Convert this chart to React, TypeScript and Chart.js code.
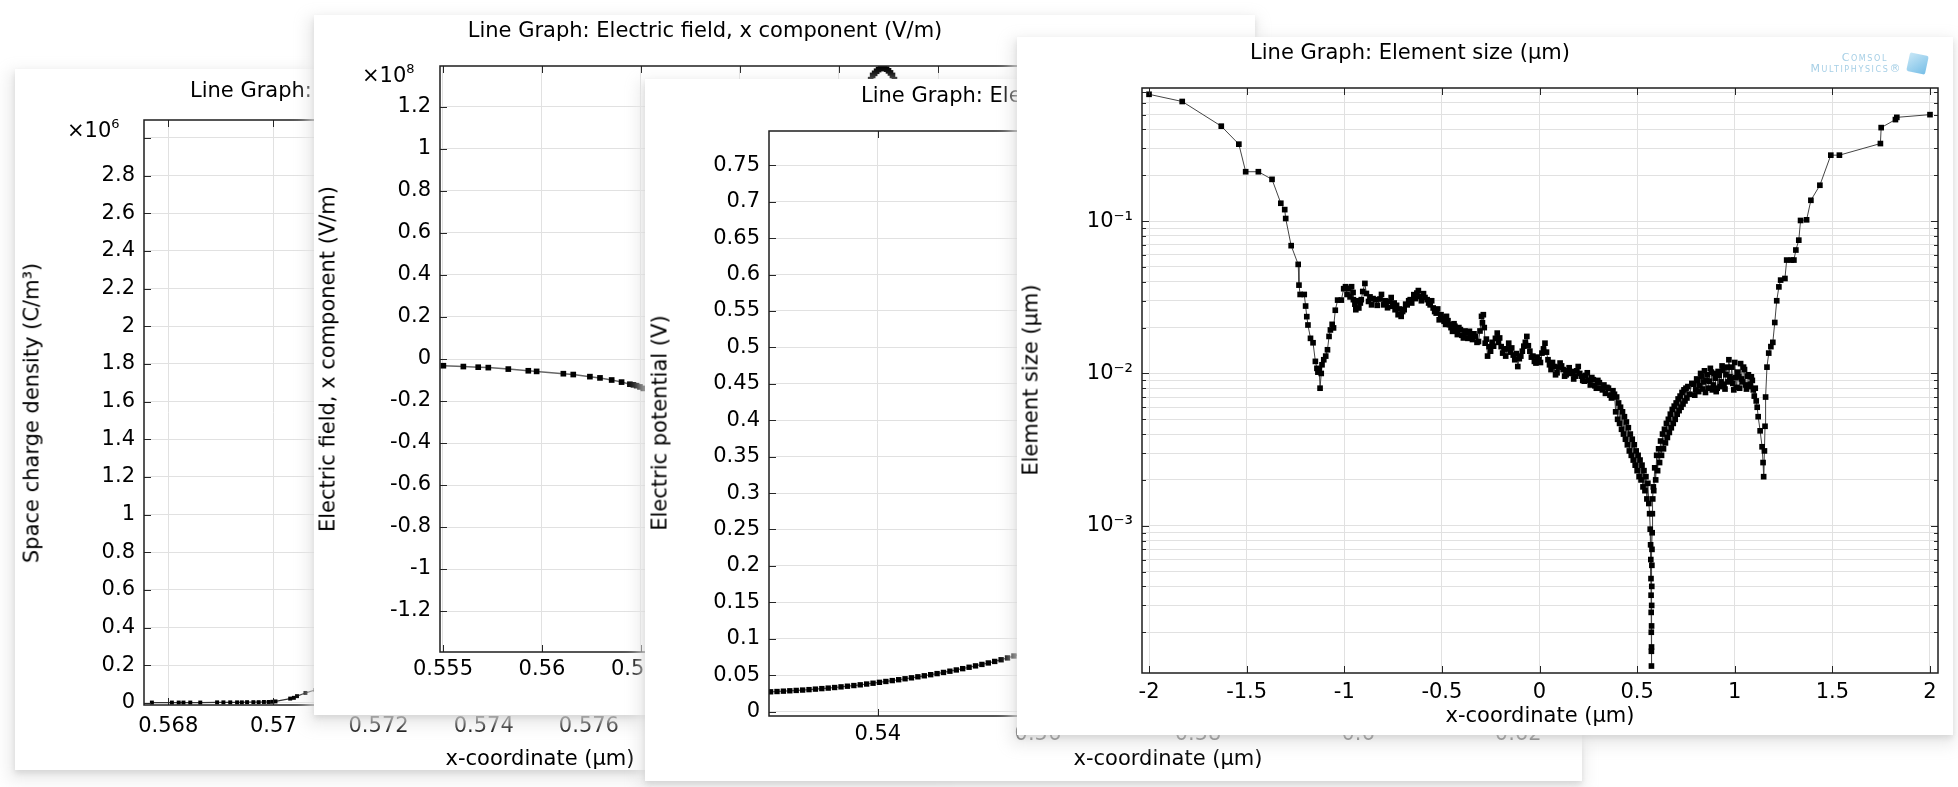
import React, { useEffect, useRef } from 'react';
import { Chart, registerables } from 'chart.js';

Chart.register(...registerables);

const FONT = "'DejaVu Sans', 'Liberation Sans', sans-serif";
const GRID = '#e1e1e1';

// ---------- Panel 1: Space charge density (x10^6 C/m^3) ----------
const rhoX = [0.56769, 0.56807, 0.5682, 0.56829, 0.56842, 0.56861, 0.56893, 0.56905, 0.56918, 0.56931, 0.5694, 0.5695, 0.56962, 0.56972, 0.56982, 0.56991, 0.56998, 0.57004, 0.57032, 0.57039, 0.57045, 0.57061, 0.5708, 0.5712, 0.5718, 0.5725, 0.5732, 0.574, 0.5748, 0.5755, 0.5762, 0.577, 0.578, 0.579, 0.581];
const rhoY = [0.002, 0.002, 0.002, 0.002, 0.002, 0.002, 0.003, 0.003, 0.003, 0.003, 0.003, 0.004, 0.004, 0.004, 0.005, 0.005, 0.006, 0.008, 0.023, 0.027, 0.036, 0.053, 0.069, 0.12, 0.22, 0.45, 0.9, 1.7, 2.6, 2.9, 2.5, 1.4, 0.3, 0.02, 0.002];
const rhoXTicks = [0.568, 0.57, 0.572, 0.574, 0.576, 0.578, 0.58, 0.582];
const rhoYTicks = [0, 0.2, 0.4, 0.6, 0.8, 1, 1.2, 1.4, 1.6, 1.8, 2, 2.2, 2.4, 2.6, 2.8, 3];
const rhoYLabels = ['0', '0.2', '0.4', '0.6', '0.8', '1', '1.2', '1.4', '1.6', '1.8', '2', '2.2', '2.4', '2.6', '2.8', ''];

// ---------- Panel 2: Electric field, x component (x10^8 V/m) ----------
const efX = [0.55502, 0.55603, 0.55678, 0.55729, 0.5583, 0.55931, 0.55973, 0.56108, 0.56158, 0.56242, 0.56293, 0.56352, 0.56402, 0.56444, 0.56462, 0.56478, 0.56495, 0.56512, 0.5655, 0.567, 0.569, 0.571, 0.573, 0.575, 0.5766, 0.5767, 0.5768, 0.5769, 0.577, 0.5771, 0.5772, 0.5773, 0.5774, 0.5775, 0.5776, 0.5777, 0.5778, 0.5795, 0.581, 0.584, 0.588, 0.592, 0.595];
const efY = [-0.032, -0.036, -0.039, -0.041, -0.048, -0.056, -0.059, -0.07, -0.074, -0.084, -0.09, -0.1, -0.11, -0.12, -0.123, -0.127, -0.133, -0.14, -0.16, -0.19, -0.2, -0.1, 0.3, 0.9, 1.33, 1.35, 1.36, 1.37, 1.378, 1.383, 1.386, 1.384, 1.38, 1.372, 1.362, 1.35, 1.33, 1.0, 0.5, 0.1, -0.02, -0.03, -0.03];
const efXTicks = [0.555, 0.56, 0.565, 0.57, 0.575, 0.58, 0.585, 0.59, 0.595];
const efYTicks = [-1.2, -1, -0.8, -0.6, -0.4, -0.2, 0, 0.2, 0.4, 0.6, 0.8, 1, 1.2];

// ---------- Panel 3: Electric potential (V) ----------
const vX = [0.5266, 0.5274, 0.5282, 0.529, 0.5298, 0.5306, 0.5314, 0.5322, 0.533, 0.5338, 0.5346, 0.5354, 0.5362, 0.537, 0.5378, 0.5386, 0.5394, 0.5402, 0.541, 0.5418, 0.5426, 0.5434, 0.5442, 0.545, 0.5458, 0.5466, 0.5474, 0.5482, 0.549, 0.5498, 0.5506, 0.5514, 0.5522, 0.553, 0.5538, 0.5546, 0.5554, 0.5562, 0.557, 0.5578, 0.5586, 0.565, 0.572, 0.58, 0.59, 0.6, 0.61, 0.625];
const vY = [0.0272, 0.0276, 0.0281, 0.0286, 0.0291, 0.0296, 0.0302, 0.0309, 0.0316, 0.0323, 0.0331, 0.034, 0.0349, 0.0358, 0.0368, 0.0379, 0.039, 0.0402, 0.0414, 0.0426, 0.0438, 0.0451, 0.0464, 0.0478, 0.0492, 0.0507, 0.0522, 0.0538, 0.0555, 0.0572, 0.059, 0.0609, 0.0628, 0.0648, 0.0668, 0.0689, 0.0712, 0.0737, 0.0764, 0.0792, 0.0822, 0.14, 0.27, 0.5, 0.7, 0.75, 0.76, 0.765];
const vXTicks = [0.54, 0.56, 0.58, 0.6, 0.62];
const vYTicks = [0, 0.05, 0.1, 0.15, 0.2, 0.25, 0.3, 0.35, 0.4, 0.45, 0.5, 0.55, 0.6, 0.65, 0.7, 0.75];

// ---------- Panel 4: Element size (µm) ----------
const elX = [
  -2.0, -1.83, -1.63, -1.54, -1.505, -1.44, -1.37, -1.325, -1.305, -1.3, -1.272, -1.236, -1.232, -1.226, -1.205, -1.198, -1.192, -1.186, -1.173, -1.16, -1.148, -1.14, -1.135, -1.128, -1.124, -1.118, -1.114, -1.105, -1.095, -1.086, -1.078, -1.071, -1.062, -1.055, -1.046, -1.034, -1.015, -1.003,
  -0.9936, -0.9859, -0.978, -0.9703, -0.9626, -0.9549, -0.9533, -0.9456, -0.9409, -0.9332, -0.9254, -0.9177, -0.913, -0.9053, -0.8944, -0.8867, -0.8758, -0.8681, -0.8603, -0.8526, -0.8388, -0.8311, -0.8171, -0.8094, -0.7985, -0.7908, -0.7861, -0.7784, -0.7675, -0.7598, -0.752, -0.7443, -0.7397, -0.732, -0.7242, -0.7165, -0.7087, -0.701,
  -0.6932, -0.6855, -0.6778, -0.6701, -0.6623, -0.6546, -0.6437, -0.636, -0.6282, -0.6205, -0.6127, -0.605, -0.5942, -0.5865, -0.5756, -0.5679, -0.5601, -0.5524, -0.5447, -0.537, -0.5292, -0.5215, -0.5137, -0.506, -0.5044, -0.4967, -0.4889, -0.4812, -0.4765, -0.4688, -0.461, -0.4533, -0.4456, -0.4379, -0.4332, -0.4255, -0.4208, -0.4131, -0.4053, -0.3976,
  -0.3899, -0.3822, -0.3744, -0.3667, -0.3589, -0.3512, -0.3434, -0.3357, -0.3279, -0.3202, -0.3125, -0.3048, -0.297, -0.2924, -0.2877, -0.283, -0.2784, -0.2722, -0.2661, -0.2584, -0.2506, -0.2429, -0.2351, -0.2258, -0.2165, -0.2103, -0.2041, -0.1964, -0.1887, -0.181, -0.1732, -0.1655, -0.1577, -0.15, -0.1423, -0.1346, -0.1268, -0.1191, -0.1113, -0.1036,
  -0.0958, -0.0881, -0.0803, -0.0726, -0.0649, -0.0572, -0.0494, -0.0417, -0.0339, -0.0262, -0.0184, -0.0107, -0.003, 0.0048, 0.0125, 0.0202, 0.028, 0.0358, 0.0435, 0.0512, 0.059, 0.0667, 0.0744, 0.0822, 0.0899, 0.0976, 0.1054, 0.1131, 0.1209, 0.1286, 0.1364, 0.1441, 0.1518, 0.1596, 0.1673, 0.175, 0.1828, 0.1906, 0.1983, 0.206,
  0.2137, 0.2214, 0.2292, 0.237, 0.2447, 0.2524, 0.2602, 0.268, 0.2757, 0.2834, 0.2911, 0.2988, 0.3066, 0.3144, 0.3221, 0.3298, 0.3376, 0.3454, 0.3531, 0.3608, 0.3685, 0.3762, 0.384,
  0.39, 0.395, 0.4, 0.405, 0.41, 0.415, 0.42, 0.425, 0.43, 0.435, 0.44, 0.445, 0.45, 0.455, 0.46, 0.465, 0.47, 0.475, 0.48, 0.485, 0.49, 0.495, 0.5, 0.505, 0.51, 0.515, 0.52, 0.525, 0.53, 0.535, 0.54, 0.545, 0.55, 0.555, 0.56, 0.564, 0.567, 0.569, 0.57, 0.571, 0.5715, 0.572, 0.5725, 0.573, 0.5733, 0.5737, 0.574, 0.5745, 0.575, 0.5755, 0.576, 0.577, 0.578, 0.58, 0.583,
  0.585, 0.59, 0.595, 0.6, 0.605, 0.61, 0.615, 0.62, 0.625, 0.63, 0.635, 0.64, 0.645, 0.65, 0.655, 0.66, 0.665, 0.67, 0.675, 0.68, 0.685, 0.69, 0.695, 0.7, 0.705, 0.71, 0.715, 0.72, 0.725, 0.73, 0.735, 0.74, 0.745, 0.75, 0.755, 0.76, 0.77, 0.78,
  0.79, 0.795, 0.8, 0.805, 0.81, 0.815, 0.82, 0.825, 0.83, 0.835, 0.84, 0.845, 0.85, 0.855, 0.86, 0.865, 0.87, 0.875, 0.88, 0.885, 0.89, 0.895, 0.9, 0.905, 0.91, 0.915, 0.92, 0.925, 0.93, 0.935, 0.94, 0.945, 0.95, 0.955, 0.96, 0.965, 0.97, 0.975, 0.98, 0.985,
  0.99, 0.995, 1.0, 1.005, 1.01, 1.015, 1.02, 1.025, 1.03, 1.035, 1.04, 1.045, 1.05, 1.055, 1.06, 1.065, 1.07, 1.075, 1.08, 1.085, 1.09, 1.095, 1.1, 1.105, 1.11, 1.115, 1.12, 1.13, 1.14, 1.145, 1.148, 1.152, 1.155,
  1.158, 1.165, 1.174, 1.185, 1.195, 1.205, 1.215, 1.226, 1.235, 1.257, 1.266, 1.29, 1.303, 1.313, 1.328, 1.337, 1.368, 1.39, 1.436, 1.492, 1.536, 1.746, 1.75, 1.823, 1.83, 2.0,
];
const elY = [
  0.68, 0.61, 0.42, 0.32, 0.211, 0.211, 0.188, 0.131, 0.119, 0.104, 0.069, 0.052, 0.038, 0.033, 0.033, 0.0277, 0.0236, 0.0208, 0.017, 0.0159, 0.012, 0.0108, 0.0102, 0.0106, 0.008, 0.01, 0.0114, 0.0123, 0.013, 0.0143, 0.0175, 0.0193, 0.021, 0.0199, 0.026, 0.0303, 0.0303, 0.036,
  0.0371, 0.033, 0.0362, 0.0318, 0.0371, 0.034, 0.0305, 0.0285, 0.0262, 0.03, 0.0269, 0.029, 0.0305, 0.0345, 0.039, 0.0335, 0.0297, 0.0318, 0.0282, 0.031, 0.0305, 0.028, 0.0308, 0.033, 0.0282, 0.03, 0.029, 0.027, 0.0297, 0.0315, 0.0276, 0.029, 0.0262, 0.028, 0.0243, 0.0265, 0.0237, 0.0255,
  0.0262, 0.0285, 0.0282, 0.03, 0.0305, 0.029, 0.0329, 0.031, 0.0337, 0.035, 0.032, 0.03, 0.0334, 0.0315, 0.0305, 0.029, 0.0282, 0.03, 0.0269, 0.0255, 0.0249, 0.0265, 0.0225, 0.0235, 0.0243, 0.023, 0.022, 0.021, 0.0237, 0.0222, 0.0209, 0.02, 0.0189, 0.0212, 0.0204, 0.0192, 0.018, 0.02, 0.0194, 0.0178,
  0.0171, 0.019, 0.0184, 0.017, 0.0189, 0.0176, 0.0167, 0.0182, 0.0175, 0.016, 0.0162, 0.019, 0.0237, 0.0215, 0.0243, 0.02, 0.0158, 0.0168, 0.013, 0.015, 0.014, 0.016, 0.0151, 0.017, 0.0184, 0.016, 0.0171, 0.015, 0.0136, 0.0145, 0.013, 0.0145, 0.0158, 0.0138, 0.0147, 0.0132, 0.0123, 0.0135, 0.0111, 0.0125,
  0.013, 0.014, 0.0151, 0.016, 0.0175, 0.0152, 0.014, 0.0128, 0.013, 0.012, 0.0117, 0.0128, 0.0123, 0.0118, 0.0136, 0.0145, 0.0158, 0.0138, 0.0123, 0.0114, 0.0106, 0.0118, 0.0111, 0.0098, 0.0101, 0.011, 0.0117, 0.0112, 0.0106, 0.0096, 0.0098, 0.0104, 0.0109, 0.01, 0.0103, 0.0092, 0.0096, 0.0104, 0.0111, 0.01,
  0.0096, 0.009, 0.0089, 0.0097, 0.0101, 0.009, 0.0084, 0.0094, 0.0091, 0.0083, 0.008, 0.009, 0.0087, 0.008, 0.0078, 0.0084, 0.0074, 0.0081, 0.008, 0.0072, 0.0069, 0.0077, 0.0073,
  0.0056, 0.007, 0.005, 0.0064, 0.0047, 0.006, 0.0043, 0.0056, 0.004, 0.0052, 0.0037, 0.0048, 0.0034, 0.0044, 0.0031, 0.004, 0.0029, 0.0037, 0.0027, 0.0034, 0.0025, 0.0031, 0.0023, 0.0029, 0.0021, 0.0027, 0.002, 0.0025, 0.0018, 0.0023, 0.0017, 0.0021, 0.0015, 0.0019, 0.0014, 0.0012, 0.00095, 0.00075, 0.0006, 0.00045, 0.00035, 0.00027, 0.0002, 0.00015, 0.00012, 0.00016, 0.00022, 0.0003, 0.0004, 0.00055, 0.0007, 0.0009, 0.0012, 0.0015, 0.0018,
  0.0017, 0.0024, 0.002, 0.0029, 0.0023, 0.0032, 0.0026, 0.0036, 0.0029, 0.004, 0.0032, 0.0043, 0.0035, 0.0047, 0.0038, 0.005, 0.0041, 0.0054, 0.0044, 0.0058, 0.0047, 0.0061, 0.005, 0.0064, 0.0054, 0.0068, 0.0057, 0.0071, 0.006, 0.0075, 0.0063, 0.0078, 0.0066, 0.008, 0.0069, 0.0082, 0.0073, 0.0086,
  0.0085, 0.0072, 0.0078, 0.0092, 0.009, 0.0076, 0.0083, 0.01, 0.0096, 0.0079, 0.0088, 0.0104, 0.0075, 0.009, 0.0098, 0.008, 0.0089, 0.0108, 0.0102, 0.0078, 0.0084, 0.01, 0.0093, 0.0076, 0.008, 0.0103, 0.0097, 0.0082, 0.0088, 0.0112, 0.0105, 0.0085, 0.0079, 0.0098, 0.011, 0.0088, 0.0123, 0.0095, 0.0092, 0.011,
  0.0086, 0.0078, 0.0118, 0.0094, 0.0081, 0.0102, 0.0095, 0.008, 0.0116, 0.0092, 0.0088, 0.011, 0.0106, 0.0084, 0.0079, 0.0096, 0.0098, 0.0082, 0.0085, 0.0095, 0.009, 0.0078, 0.0071, 0.008, 0.0066, 0.006, 0.0052, 0.0042, 0.0033, 0.0026, 0.0021, 0.0031, 0.0045,
  0.007, 0.011, 0.0136, 0.015, 0.016, 0.0216, 0.03, 0.037, 0.041, 0.042, 0.0555, 0.0555, 0.0555, 0.0646, 0.075, 0.101, 0.102, 0.137, 0.172, 0.271, 0.271, 0.323, 0.411, 0.464, 0.48, 0.5,
];
const elXTicks = [-2, -1.5, -1, -0.5, 0, 0.5, 1, 1.5, 2];
const elYDecades = [1e-4, 1e-3, 1e-2, 1e-1];

// ---------------------------------------------------------------
type Rect = { l: number; t: number; r: number; b: number };
const W_Y = 100;
const H_X = 40;

const SUP: Record<string, string> = { '-': '⁻', '0': '⁰', '1': '¹', '2': '²', '3': '³', '4': '⁴', '5': '⁵' };
const isDecade = (v: number) => {
  const e = Math.log10(v);
  return Math.abs(e - Math.round(e)) < 1e-6;
};

const framePlugin = {
  id: 'comsolFrame',
  afterDraw(chart: any) {
    const { ctx, chartArea: a, scales } = chart;
    const xs = scales.x;
    const ys = scales.y;
    ctx.save();
    ctx.strokeStyle = '#262626';
    ctx.lineWidth = 1;
    ctx.beginPath();
    for (const t of xs.ticks) {
      const p = Math.round(xs.getPixelForValue(t.value)) + 0.5;
      if (p < a.left - 1 || p > a.right + 1) continue;
      ctx.moveTo(p, a.bottom);
      ctx.lineTo(p, a.bottom - 7);
      ctx.moveTo(p, a.top);
      ctx.lineTo(p, a.top + 7);
    }
    const isLog = ys.type === 'logarithmic';
    for (const t of ys.ticks) {
      const p = Math.round(ys.getPixelForValue(t.value)) + 0.5;
      if (p < a.top - 1 || p > a.bottom + 1) continue;
      const len = isLog && !isDecade(t.value) ? 4 : 7;
      ctx.moveTo(a.left, p);
      ctx.lineTo(a.left + len, p);
      ctx.moveTo(a.right, p);
      ctx.lineTo(a.right - len, p);
    }
    ctx.stroke();
    ctx.lineWidth = 1.5;
    ctx.strokeStyle = '#1e1e1e';
    ctx.strokeRect(a.left, a.top, a.right - a.left, a.bottom - a.top);
    ctx.restore();
  },
};

interface PanelCfg {
  card: Rect;
  plot: Rect;
  z: number;
  xs: number[];
  ys: number[];
  xMin: number;
  xMax: number;
  xTicks: number[];
  yMin: number;
  yMax: number;
  yTicks: number[];
  yLabel: (v: number) => string;
  log?: boolean;
  xPad: number;
  pr: number;
  lineColor: string;
  lineWidth: number;
}

function Panel({ cfg, children }: { cfg: PanelCfg; children?: React.ReactNode }) {
  const ref = useRef<HTMLCanvasElement>(null);
  const { card, plot } = cfg;
  const cw = card.r - card.l;
  const ch = card.b - card.t;
  useEffect(() => {
    const font = { family: FONT, size: 21 };
    const chart = new Chart(ref.current as HTMLCanvasElement, {
      type: 'scatter',
      data: {
        datasets: [
          {
            data: cfg.xs.map((x, i) => ({ x, y: cfg.ys[i] })),
            showLine: true,
            borderColor: cfg.lineColor,
            borderWidth: cfg.lineWidth,
            pointStyle: 'rect',
            pointRadius: cfg.pr,
            pointHoverRadius: cfg.pr,
            pointBackgroundColor: '#000',
            pointBorderWidth: 0,
          } as any,
        ],
      },
      options: {
        animation: false,
        responsive: false,
        maintainAspectRatio: false,
        events: [],
        layout: {
          padding: {
            left: plot.l - card.l - W_Y,
            top: plot.t - card.t,
            right: card.r - plot.r,
            bottom: card.b - plot.b - H_X,
          },
        },
        plugins: { legend: { display: false }, tooltip: { enabled: false }, title: { display: false } },
        scales: {
          x: {
            type: 'linear',
            bounds: 'data',
            min: cfg.xMin,
            max: cfg.xMax,
            afterBuildTicks: (s: any) => {
              s.ticks = cfg.xTicks.map((v) => ({ value: v }));
            },
            afterFit: (s: any) => {
              s.height = H_X;
              s.paddingLeft = 0;
              s.paddingRight = 0;
            },
            ticks: {
              font,
              color: '#000',
              padding: cfg.xPad,
              maxRotation: 0,
              minRotation: 0,
              autoSkip: false,
              callback: (v: any) => String(v),
            },
            grid: { color: GRID, drawTicks: false, lineWidth: 1 },
            border: { display: false },
          },
          y: {
            type: cfg.log ? 'logarithmic' : 'linear',
            bounds: 'data',
            min: cfg.yMin,
            max: cfg.yMax,
            afterBuildTicks: (s: any) => {
              s.ticks = cfg.yTicks.map((v) => ({ value: v }));
            },
            afterFit: (s: any) => {
              s.width = W_Y;
              s.paddingTop = 0;
              s.paddingBottom = 0;
            },
            ticks: {
              font,
              color: '#000',
              padding: 9,
              autoSkip: false,
              callback: (v: any) => cfg.yLabel(Number(v)),
            },
            grid: { color: GRID, drawTicks: false, lineWidth: 1 },
            border: { display: false },
          },
        } as any,
      },
      plugins: [framePlugin],
    });
    return () => chart.destroy();
  }, []);
  return (
    <div
      style={{
        position: 'absolute',
        left: card.l,
        top: card.t,
        width: cw,
        height: ch,
        background: '#fff',
        zIndex: cfg.z,
        overflow: 'hidden',
        boxShadow: '0 3px 6px rgba(0,0,0,0.10), -2px 6px 14px 4px rgba(232,232,232,0.85)',
      }}
    >
      <canvas ref={ref} width={cw} height={ch} style={{ position: 'absolute', left: 0, top: 0, width: cw, height: ch }} />
      <div style={{ position: 'absolute', left: -card.l, top: -card.t, width: 0, height: 0 }}>{children}</div>
    </div>
  );
}

function T({ x, y, rot, left, children, size = 21, color = '#000' }: any) {
  return (
    <div
      style={{
        position: 'absolute',
        left: x,
        top: y,
        transform: `translate(${left ? '0' : '-50%'}, -50%)${rot ? ' rotate(-90deg)' : ''}`,
        font: `${size}px ${FONT}`,
        color,
        whiteSpace: 'nowrap',
        lineHeight: 1,
      }}
    >
      {children}
    </div>
  );
}

function Mult({ x, y, exp }: { x: number; y: number; exp: string }) {
  return (
    <T x={x} y={y} left>
      ×10<span style={{ fontSize: 13, position: 'relative', top: -9 }}>{exp}</span>
    </T>
  );
}

const fmtPlain = (v: number) => String(v);

const p1: PanelCfg = {
  card: { l: 15, t: 69, r: 950, b: 770 },
  plot: { l: 144, t: 120, r: 936, b: 705 },
  z: 1,
  xs: rhoX,
  ys: rhoY,
  xMin: 0.56754,
  xMax: 0.5826,
  xTicks: rhoXTicks,
  yMin: -0.011,
  yMax: 3.095,
  yTicks: rhoYTicks,
  yLabel: (v) => rhoYLabels[rhoYTicks.indexOf(v)] ?? '',
  xPad: 9,
  pr: 2.8,
  lineColor: '#333',
  lineWidth: 1.2,
};

const p2: PanelCfg = {
  card: { l: 314, t: 15, r: 1255, b: 715 },
  plot: { l: 440, t: 66, r: 1237, b: 652 },
  z: 2,
  xs: efX,
  ys: efY,
  xMin: 0.55485,
  xMax: 0.5951,
  xTicks: efXTicks,
  yMin: -1.395,
  yMax: 1.395,
  yTicks: efYTicks,
  yLabel: fmtPlain,
  xPad: 5,
  pr: 4,
  lineColor: '#666',
  lineWidth: 1.5,
};

const p3: PanelCfg = {
  card: { l: 645, t: 79, r: 1582, b: 781 },
  plot: { l: 769, t: 131, r: 1567, b: 716 },
  z: 3,
  xs: vX,
  ys: vY,
  xMin: 0.5264,
  xMax: 0.6261,
  xTicks: vXTicks,
  yMin: -0.006,
  yMax: 0.797,
  yTicks: vYTicks,
  yLabel: fmtPlain,
  xPad: 6,
  pr: 3.8,
  lineColor: '#555',
  lineWidth: 1.2,
};

const elYTicks: number[] = [];
elYDecades.forEach((d) => {
  for (let m = 1; m <= 9; m++) {
    const v = m * d;
    if (v >= 1.08e-4 && v <= 0.748) elYTicks.push(v);
  }
});

const p4: PanelCfg = {
  card: { l: 1017, t: 37, r: 1953, b: 735 },
  plot: { l: 1142, t: 88, r: 1938, b: 673 },
  z: 4,
  xs: elX,
  ys: elY,
  xMin: -2.036,
  xMax: 2.041,
  xTicks: elXTicks,
  yMin: 1.08e-4,
  yMax: 0.748,
  yTicks: elYTicks,
  yLabel: (v) => {
    if (!isDecade(v)) return '';
    const e = String(Math.round(Math.log10(v)));
    return '10' + e.split('').map((c) => SUP[c] || c).join('');
  },
  log: true,
  xPad: 7,
  pr: 4,
  lineColor: '#444',
  lineWidth: 1,
};

export default function App() {
  return (
    <div
      style={{
        position: 'fixed',
        left: 0,
        top: 0,
        width: 1958,
        height: 787,
        overflow: 'hidden',
        background: '#fff',
        fontFamily: FONT,
      }}
    >
      <Panel cfg={p1}>
        <T x={190} y={90} left>Line Graph: Space charge density (C/m³)</T>
        <Mult x={67} y={130} exp="6" />
        <T x={32} y={413} rot>Space charge density (C/m³)</T>
        <T x={540} y={758}>x-coordinate (µm)</T>
      </Panel>
      <Panel cfg={p2}>
        <T x={705} y={30}>Line Graph: Electric field, x component (V/m)</T>
        <Mult x={362} y={75} exp="8" />
        <T x={328} y={359} rot>Electric field, x component (V/m)</T>
        <T x={838} y={698}>x-coordinate (µm)</T>
      </Panel>
      <Panel cfg={p3}>
        <T x={861} y={95} left>Line Graph: Electric potential (V)</T>
        <T x={660} y={423} rot>Electric potential (V)</T>
        <T x={1168} y={758}>x-coordinate (µm)</T>
      </Panel>
      <Panel cfg={p4}>
        <T x={1410} y={52}>Line Graph: Element size (µm)</T>
        <T x={1031} y={380} rot>Element size (µm)</T>
        <T x={1540} y={715}>x-coordinate (µm)</T>
        <div
          style={{
            position: 'absolute',
            left: 1790,
            top: 52,
            width: 112,
            textAlign: 'right',
            color: '#a6cfe6',
            font: `11px ${FONT}`,
            letterSpacing: 1.6,
            lineHeight: '11px',
            fontVariant: 'small-caps',
          }}
        >
          <div style={{ marginRight: 14 }}>Comsol</div>
          <div>Multiphysics®</div>
        </div>
        <div
          style={{
            position: 'absolute',
            left: 1908,
            top: 54,
            width: 19,
            height: 19,
            background: 'linear-gradient(135deg, #bfe3f5, #5fb3e3)',
            transform: 'rotate(12deg)',
            borderRadius: 2,
            opacity: 0.85,
          }}
        />
      </Panel>
    </div>
  );
}
